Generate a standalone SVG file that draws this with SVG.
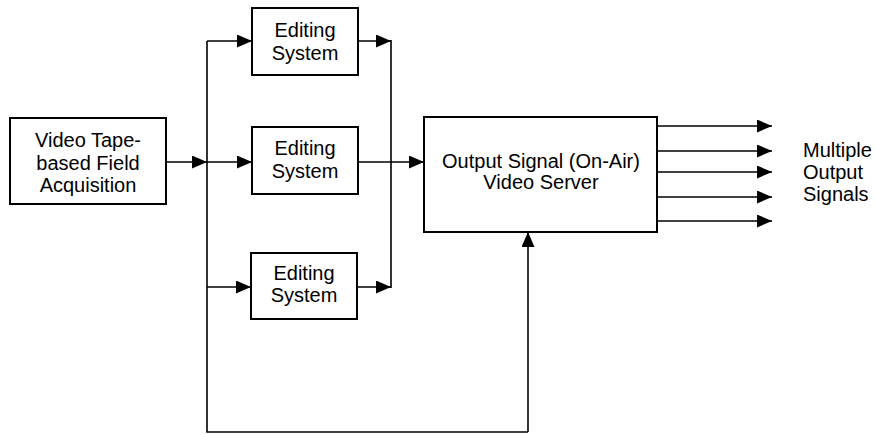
<svg xmlns="http://www.w3.org/2000/svg" width="875" height="435" viewBox="0 0 875 435">
<defs>
<marker id="ah" markerUnits="userSpaceOnUse" markerWidth="16" markerHeight="14" refX="15" refY="6.5" orient="auto">
<path d="M0,0 L15,6.5 L0,13 z" fill="#000"/>
</marker>
<style>
.box{fill:#fff;stroke:#000;stroke-width:2}
.t{font-family:"Liberation Sans",Arial,sans-serif;font-size:20px;fill:#000;text-anchor:middle}
.tl{font-family:"Liberation Sans",Arial,sans-serif;font-size:20px;fill:#000}
.ln{fill:none;stroke:#000;stroke-width:1.6}
.ar{fill:none;stroke:#000;stroke-width:1.6;marker-end:url(#ah)}
</style>
</defs>
<rect width="875" height="435" fill="#fff"/>
<g id="connectors">
<path class="ar" d="M166,162 H207"/>
<path class="ln" d="M207,41 V432 H528"/>
<path class="ar" d="M528,432 V232"/>
<path class="ar" d="M207,41 H252"/>
<path class="ar" d="M207,162 H252"/>
<path class="ar" d="M207,287 H251"/>
<path class="ar" d="M358,41 H391"/>
<path class="ar" d="M357,287 H391"/>
<path class="ln" d="M391,40 V288"/>
<path class="ar" d="M358,162 H424"/>
<path class="ar" d="M657,126 H772"/>
<path class="ar" d="M657,151 H772"/>
<path class="ar" d="M657,172 H772"/>
<path class="ar" d="M657,197 H772"/>
<path class="ar" d="M657,221 H772"/>
</g>
<g id="acquisition">
<rect class="box" x="10" y="118" width="156" height="86"/>
<text class="t" x="88" y="147">Video Tape-</text>
<text class="t" x="88" y="170">based Field</text>
<text class="t" x="88" y="192">Acquisition</text>
</g>
<g id="edit1">
<rect class="box" x="252" y="8" width="106" height="67"/>
<text class="t" x="305" y="37">Editing</text>
<text class="t" x="305" y="60">System</text>
</g>
<g id="edit2">
<rect class="box" x="252" y="127" width="106" height="67"/>
<text class="t" x="305" y="155">Editing</text>
<text class="t" x="305" y="178">System</text>
</g>
<g id="edit3">
<rect class="box" x="251" y="253" width="106" height="66"/>
<text class="t" x="304" y="280">Editing</text>
<text class="t" x="304" y="302">System</text>
</g>
<g id="server">
<rect class="box" x="424" y="117" width="233" height="115"/>
<text class="t" x="541" y="168">Output Signal (On-Air)</text>
<text class="t" x="541" y="189">Video Server</text>
</g>
<g id="outputs-label">
<text class="tl" x="803" y="157">Multiple</text>
<text class="tl" x="803" y="179">Output</text>
<text class="tl" x="803" y="201">Signals</text>
</g>
</svg>
